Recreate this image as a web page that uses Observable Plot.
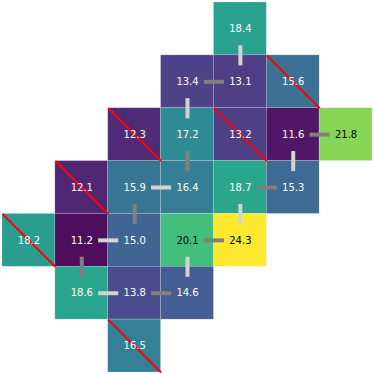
<!DOCTYPE html>
<html>
<head>
<meta charset="utf-8">
<script src="https://cdn.jsdelivr.net/npm/d3@7"></script>
<script src="https://cdn.jsdelivr.net/npm/@observablehq/plot@0.6"></script>
<style>
  html, body { margin: 0; padding: 0; background: #fff; }
  #chart svg { display: block; }
</style>
</head>
<body>
<div id="chart"></div>
<script>
// Grid cells (row 0 = top, col 0 = left)
const rows   = [0, 1, 1, 1, 2, 2, 2, 2, 2, 3, 3, 3, 3, 3, 4, 4, 4, 4, 4, 5, 5, 5, 6];
const cols   = [4, 3, 4, 5, 2, 3, 4, 5, 6, 1, 2, 3, 4, 5, 0, 1, 2, 3, 4, 1, 2, 3, 2];
const values = [18.4, 13.4, 13.1, 15.6, 12.3, 17.2, 13.2, 11.6, 21.8, 12.1, 15.9, 16.4, 18.7, 15.3,
                18.2, 11.2, 15.0, 20.1, 24.3, 18.6, 13.8, 14.6, 16.5];
// Cells struck through with a red diagonal
const crossed = [false, false, false, true, true, false, true, false, false, true, false, false, false, false,
                 true, false, false, false, false, false, false, false, true];
// Connections between neighbouring cells (cell indices) and their kind
const linkFrom = [0, 1, 1, 7, 7, 5, 10, 12, 12, 10, 15, 17, 15, 17, 19, 20];
const linkTo   = [2, 2, 5, 8, 13, 11, 11, 13, 18, 16, 16, 18, 19, 21, 20, 21];
const linkKind = ["light", "gray", "light", "gray", "light", "gray", "light", "gray", "light",
                  "gray", "light", "gray", "gray", "light", "light", "gray"];

const cells = values.map((v, i) => ({row: rows[i], col: cols[i], value: v, crossed: crossed[i]}));
const vmin = d3.min(values), vmax = d3.max(values);
const links = linkFrom.map((a, i) => {
  const A = cells[a], B = cells[linkTo[i]];
  const horizontal = A.row === B.row;
  const bx = horizontal ? Math.max(A.col, B.col) : A.col + 0.5;
  const by = horizontal ? A.row + 0.5 : Math.max(A.row, B.row);
  const h = 0.19;
  return horizontal
    ? {x1: bx - h, x2: bx + h, y1: by, y2: by, kind: linkKind[i]}
    : {x1: bx, x2: bx, y1: by - h, y2: by + h, kind: linkKind[i]};
});

const chart = Plot.plot({
  width: 374,
  height: 374,
  margin: 0,
  x: {domain: [0, 7], range: [2, 372], axis: null},
  y: {domain: [0, 7], range: [2, 372], axis: null},
  color: {type: "linear", scheme: "viridis", domain: [vmin, vmax]},
  marks: [
    Plot.rect(cells, {
      x1: d => d.col, x2: d => d.col + 1, y1: d => d.row, y2: d => d.row + 1,
      fill: "value", fillOpacity: 0.95, stroke: "white", strokeOpacity: 0.3, strokeWidth: 0.6
    }),
    Plot.link(cells.filter(d => d.crossed), {
      x1: d => d.col, y1: d => d.row, x2: d => d.col + 1, y2: d => d.row + 1,
      stroke: "red", strokeWidth: 2
    }),
    Plot.link(links, {
      x1: "x1", y1: "y1", x2: "x2", y2: "y2",
      stroke: d => d.kind === "light" ? "#d3d3d3" : "#808080",
      strokeWidth: 4, strokeLinecap: "butt"
    }),
    Plot.text(cells, {
      x: d => d.col + 0.5, y: d => d.row + 0.5,
      text: d => d.value.toFixed(1),
      fill: d => (d.value - vmin) / (vmax - vmin) > 0.6 ? "black" : "white",
      fontSize: 10, fontFamily: "DejaVu Sans", textAnchor: "middle", lineAnchor: "middle"
    })
  ]
});
document.getElementById("chart").appendChild(chart);
</script>
</body>
</html>
